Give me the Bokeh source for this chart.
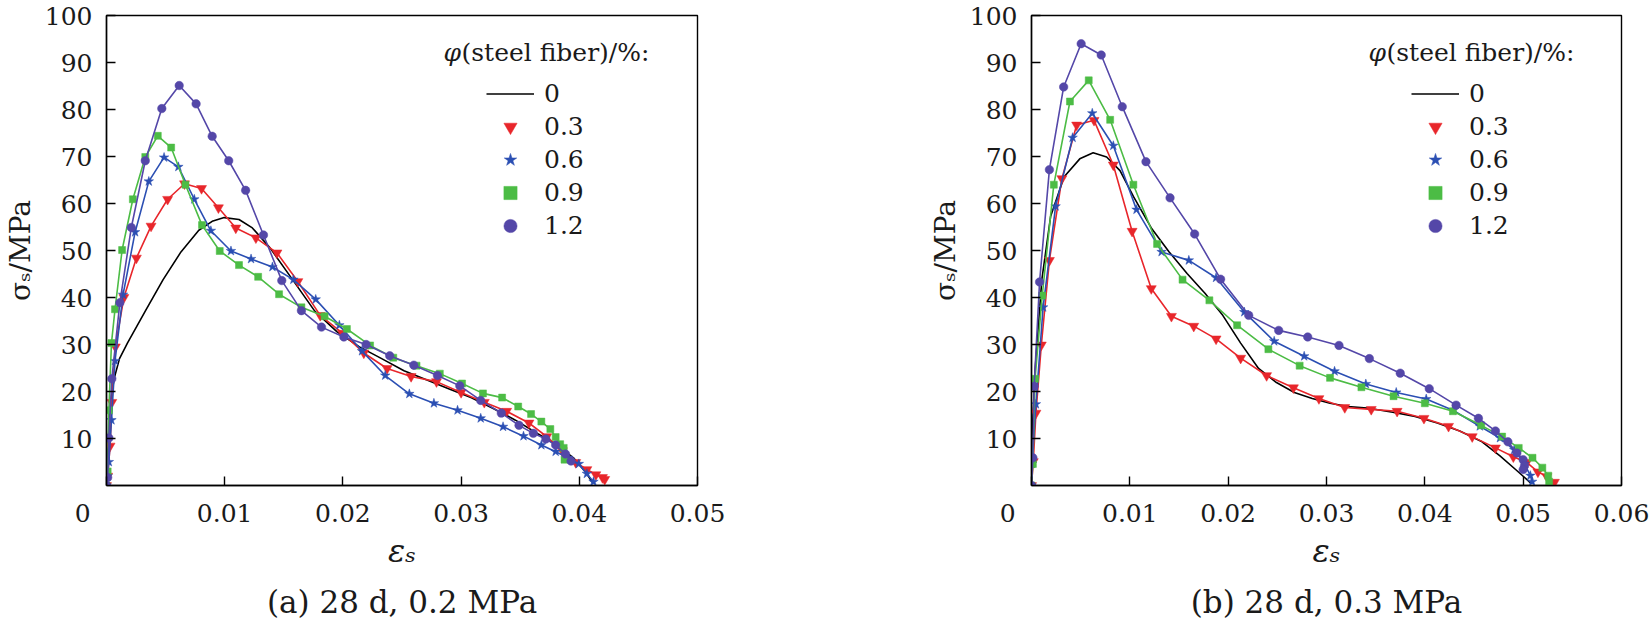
from bokeh.plotting import figure
from bokeh.models import Range1d, FixedTicker, Label, Legend, LegendItem, Title
from bokeh.layouts import row
from bokeh.embed import file_html
from bokeh.resources import INLINE

# ---------------- data: panel (a) 28 d, 0.2 MPa ----------------
a_eps_0 = [0, .0001, .00026, .00064, .0011, .00177, .00328, .00479, .0063, .00781, .00894, .00996, .01121,
           .01234, .01385, .01574, .01762, .01951, .0214, .02328, .02517, .02706, .02894, .03083, .03272,
           .0346, .03649, .038, .03951, .04064, .04109]
a_sig_0 = [0, 5.9, 16.0, 22.7, 27.0, 30.3, 37.1, 43.8, 49.7, 54.3, 56.2, 57.0, 56.6, 54.8, 50.5, 43.8, 37.1,
           32.7, 29.5, 27.0, 24.4, 22.5, 20.6, 18.7, 16.4, 13.9, 11.0, 8.8, 5.9, 2.5, 0.7]

a_eps_03 = [0, .0001, .0003, .00045, .00075, .00147, .00253, .00377, .00517, .0066, .00804, .00947, .01094,
            .01264, .01442, .01619, .01808, .01996, .02177, .02374, .02577, .02792, .03, .03196, .03385,
            .03574, .03725, .03857, .0397, .04064, .0414, .04196, .04215]
a_sig_03 = [0, 2.0, 8.4, 17.7, 29.5, 40.0, 48.4, 55.2, 60.9, 64.2, 63.2, 59.1, 54.8, 52.7, 49.5, 43.4, 36.2,
            32.4, 28.2, 24.9, 23.2, 22.1, 19.8, 17.7, 15.8, 13.3, 10.4, 7.4, 4.9, 3.4, 2.3, 1.7, 1.3]

a_eps_06 = [0, .0001, .0002, .00042, .00072, .0014, .00242, .00358, .00487, .00608, .00743, .00883, .01053,
            .01223, .01404, .01581, .0177, .0197, .02162, .02358, .02562, .0277, .0297, .03166, .03355,
            .03528, .03679, .038, .03906, .03996, .04064, .0412]
a_sig_06 = [0, 2.0, 5.0, 13.9, 26.5, 40.6, 53.9, 64.7, 69.8, 67.8, 60.9, 54.2, 49.9, 48.2, 46.5, 43.8, 39.6,
            34.1, 28.6, 23.4, 19.5, 17.5, 16.0, 14.3, 12.5, 10.5, 8.6, 7.2, 5.9, 4.6, 2.5, 0.8]

a_eps_09 = [0, .0001, .0002, .00042, .00072, .00132, .00223, .00328, .00434, .00547, .00668, .00808, .00958,
            .01121, .01283, .0146, .01649, .01845, .02034, .0223, .02426, .02623, .0282, .03008, .03185,
            .03347, .03483, .03592, .03679, .03755, .038, .03838, .03868, .03875]
a_sig_09 = [0, 3.0, 16.0, 30.3, 37.5, 50.1, 60.9, 69.9, 74.4, 71.9, 64.0, 55.4, 49.9, 46.9, 44.4, 40.7, 37.9,
            36.0, 33.3, 29.8, 27.2, 25.5, 23.8, 21.7, 19.6, 18.7, 16.8, 15.2, 13.6, 12.0, 10.3, 8.8, 8.0, 5.5]

a_eps_12 = [0, .0001, .0002, .00045, .00113, .0021, .00328, .00468, .00615, .00758, .00894, .01034, .01177,
            .01328, .01483, .01649, .01819, .02008, .02196, .02396, .026, .028, .02989, .03166, .0334,
            .0349, .03611, .03717, .038, .03883, .0393]
a_sig_12 = [0, 1.7, 10.1, 22.7, 38.9, 54.9, 69.1, 80.2, 85.1, 81.2, 74.3, 69.1, 62.8, 53.3, 43.6, 37.2, 33.7,
            31.6, 30.0, 27.6, 25.6, 23.4, 21.2, 18.1, 15.4, 12.8, 11.1, 9.9, 8.6, 6.7, 5.2]

# ---------------- data: panel (b) 28 d, 0.3 MPa ----------------
b_eps_0 = [0, .00005, .00036, .00105, .00195, .00332, .00491, .00627, .00764, .009, .01036, .01218, .014,
           .01582, .01764, .01945, .02127, .02309, .02491, .02673, .02855, .03036, .03218, .03445, .03673,
           .039, .04127, .04355, .04582, .04764, .04923, .05036, .05082]
b_sig_0 = [0, 10.1, 24.4, 43.8, 57.3, 65.7, 69.5, 70.8, 69.9, 67.0, 61.5, 54.8, 49.7, 45.1, 40.9, 36.2, 30.3,
           24.9, 21.9, 19.8, 18.5, 17.5, 16.8, 16.4, 15.6, 14.7, 13.3, 11.6, 9.3, 6.3, 3.4, 1.3, 0.4]

b_eps_03 = [0, .00018, .00045, .001, .00182, .00309, .00459, .00636, .00832, .01023, .01218, .01423, .0165,
            .01877, .02127, .02391, .02664, .02923, .03186, .03455, .03718, .03991, .04241, .04482, .04718,
            .049, .05036, .0515, .05241, .05318]
b_sig_03 = [0, 5.1, 15.4, 29.9, 47.9, 65.3, 76.7, 77.7, 68.2, 54.1, 41.9, 36.0, 33.9, 31.2, 27.1, 23.4, 20.8,
            18.5, 16.6, 16.2, 15.8, 14.3, 12.6, 10.4, 8.0, 6.1, 4.9, 2.9, 1.9, 0.7]

b_eps_06 = [0, .00005, .00045, .00118, .00245, .00418, .00618, .00832, .01068, .01323, .016, .01877, .02164,
            .02468, .02773, .03082, .034, .03709, .04014, .04286, .04559, .04764, .04909, .05014, .05073, .05091]
b_sig_06 = [0, 4.6, 17.3, 37.9, 59.4, 74.0, 79.2, 72.3, 58.7, 49.7, 47.9, 44.2, 36.9, 30.7, 27.5, 24.3, 21.6,
            19.8, 18.4, 16.0, 12.6, 10.1, 7.6, 4.6, 2.1, 0.8]

b_eps_09 = [0, .00014, .00036, .00109, .00227, .00391, .00582, .008, .01036, .01277, .01536, .01809, .02091,
            .02409, .02727, .03036, .03355, .03682, .04, .04286, .04573, .04786, .04955, .05095, .05195,
            .05255, .05264]
b_sig_09 = [0, 4.6, 22.7, 40.4, 64.0, 81.7, 86.2, 77.8, 64.0, 51.4, 43.8, 39.4, 34.1, 29.0, 25.5, 22.9, 20.9,
            19.0, 17.5, 15.8, 12.8, 10.4, 8.0, 5.9, 3.8, 2.1, 0.8]

b_eps_12 = [0, .00014, .00027, .00082, .00182, .00327, .00505, .00709, .00923, .01164, .01409, .01659, .01923,
            .02209, .02514, .02809, .03127, .03436, .0375, .04045, .04318, .04545, .04718, .04845, .04936,
            .05, .05014, .05]
b_sig_12 = [0, 5.9, 21.1, 43.3, 67.2, 84.8, 94.0, 91.6, 80.6, 68.9, 61.2, 53.5, 43.9, 36.2, 33.0, 31.6, 29.8,
            27.0, 23.9, 20.6, 17.1, 14.3, 11.6, 9.3, 6.9, 5.5, 4.2, 3.4]

series_labels = ["0", "0.3", "0.6", "0.9", "1.2"]
y_ticks = [10, 20, 30, 40, 50, 60, 70, 80, 90, 100]
y_tick_labels = ["10", "20", "30", "40", "50", "60", "70", "80", "90", "100"]
a_x_ticks = [0, 0.01, 0.02, 0.03, 0.04, 0.05]
a_x_tick_labels = ["0", "0.01", "0.02", "0.03", "0.04", "0.05"]
b_x_ticks = [0, 0.01, 0.02, 0.03, 0.04, 0.05, 0.06]
b_x_tick_labels = ["0", "0.01", "0.02", "0.03", "0.04", "0.05", "0.06"]
captions = ["(a) 28 d, 0.2 MPa", "(b) 28 d, 0.3 MPa"]
x_title = "\u03b5\u209b"
y_title = "\u03c3\u209b/MPa"
legend_title = "(steel fiber)/%:"

FONT = "DejaVu Serif"
FS = "25px"
COLORS = ["black", "#e8262b", "#2b4fb3", "#4cbc45", "#5447a8"]
MARKERS = [None, "inverted_triangle", "star", "square", "circle"]
MSIZES = [0, 10, 10, 7, 8.5]
NBSP = "\u00a0"


def make_panel(series, x_end, x_ticks, x_tick_labels, caption, width, border_left, border_right):
    p = figure(width=width, height=628, output_backend="svg", toolbar_location=None,
               x_range=Range1d(0, x_end), y_range=Range1d(0, 100),
               min_border_left=border_left, min_border_right=border_right,
               min_border_top=15, min_border_bottom=139)
    p.background_fill_color = "white"
    p.border_fill_color = "white"
    p.outline_line_color = "black"
    p.outline_line_width = 1.4
    p.xgrid.visible = False
    p.ygrid.visible = False

    for ax in (p.xaxis[0], p.yaxis[0]):
        ax.axis_line_color = "black"
        ax.axis_line_width = 1.4
        ax.major_tick_in = 9
        ax.major_tick_out = 0
        ax.minor_tick_in = 0
        ax.minor_tick_out = 0
        ax.major_tick_line_width = 1.4
        ax.major_label_text_font = FONT
        ax.major_label_text_font_size = FS
        ax.major_label_text_color = "#1a1a1a"
        ax.axis_label_text_font = FONT
        ax.axis_label_text_color = "#1a1a1a"

    overrides = {}
    for t, l in zip(x_ticks, x_tick_labels):
        overrides[t] = l + NBSP * 6 if t == 0 else l
    p.xaxis.ticker = FixedTicker(ticks=x_ticks)
    p.xaxis.major_label_overrides = overrides
    p.xaxis.major_label_standoff = 13
    p.xaxis.axis_label = x_title
    p.xaxis.axis_label_text_font_size = "32px"
    p.xaxis.axis_label_text_font_style = "italic"
    p.xaxis.axis_label_standoff = 1

    p.yaxis.ticker = FixedTicker(ticks=y_ticks)
    p.yaxis.major_label_overrides = {t: l for t, l in zip(y_ticks, y_tick_labels)}
    p.yaxis.major_label_standoff = 14
    p.yaxis.axis_label = y_title
    p.yaxis.axis_label_text_font_size = "28px"
    p.yaxis.axis_label_text_font_style = "normal"
    p.yaxis.axis_label_standoff = 5

    items = []
    for i, (xs, ys) in enumerate(series):
        ln = p.line(xs, ys, line_color=COLORS[i], line_width=1.6)
        if MARKERS[i] is None:
            items.append(LegendItem(label=series_labels[i], renderers=[ln]))
        else:
            sc = p.scatter(xs, ys, marker=MARKERS[i], size=MSIZES[i], fill_color=COLORS[i],
                           line_color=COLORS[i], line_width=0.5)
            items.append(LegendItem(label=series_labels[i], renderers=[sc]))

    leg = Legend(items=items, location=(380, 243), padding=0, margin=0, spacing=0,
                 glyph_width=48, glyph_height=33, label_height=33, label_standoff=10,
                 label_text_font=FONT, label_text_font_size=FS, label_text_color="#1a1a1a",
                 border_line_color=None, background_fill_alpha=0)
    p.add_layout(leg, "center")

    p.add_layout(Label(x=337, y=433, x_units="screen", y_units="screen", text="\u03c6",
                       text_font=FONT, text_font_size=FS, text_font_style="italic",
                       text_baseline="middle", text_color="#1a1a1a"))
    p.add_layout(Label(x=355, y=433, x_units="screen", y_units="screen", text=legend_title,
                       text_font=FONT, text_font_size=FS, text_baseline="middle",
                       text_color="#1a1a1a"))

    cap = Title(text=caption, align="center", text_font=FONT, text_font_size="31px",
                text_font_style="normal", text_color="#1a1a1a", standoff=18)
    p.add_layout(cap, "below")
    return p


series_a = [(a_eps_0, a_sig_0), (a_eps_03, a_sig_03), (a_eps_06, a_sig_06), (a_eps_09, a_sig_09),
            (a_eps_12, a_sig_12)]
series_b = [(b_eps_0, b_sig_0), (b_eps_03, b_sig_03), (b_eps_06, b_sig_06), (b_eps_09, b_sig_09),
            (b_eps_12, b_sig_12)]

p1 = make_panel(series_a, 0.05, a_x_ticks, a_x_tick_labels, captions[0], 820, 103, 123)
p2 = make_panel(series_b, 0.06, b_x_ticks, b_x_tick_labels, captions[1], 829, 211, 28)

layout = row(p1, p2)
open("out.html", "w").write(file_html(layout, INLINE))
